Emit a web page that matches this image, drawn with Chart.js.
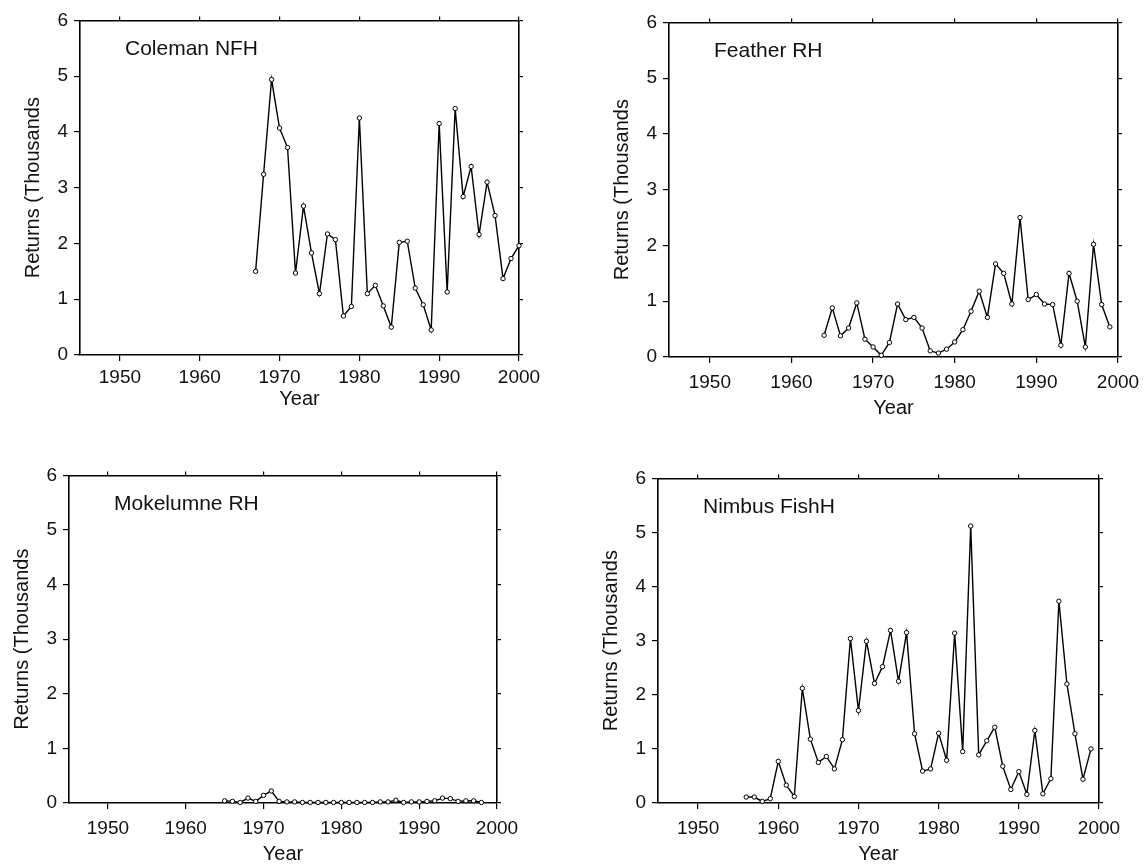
<!DOCTYPE html>
<html>
<head>
<meta charset="utf-8">
<title>Hatchery returns</title>
<script src="https://cdn.jsdelivr.net/npm/chart.js@4.4.1/dist/chart.umd.min.js"></script>
<style>
  html, body { margin: 0; padding: 0; background: #fff; }
  body { width: 1146px; height: 867px; position: relative; overflow: hidden; }
  canvas { position: absolute; }
</style>
</head>
<body>
<canvas id="coleman"></canvas>
<canvas id="feather"></canvas>
<canvas id="mokelumne"></canvas>
<canvas id="nimbus"></canvas>
<script>
// tick labels shared by all four panels
const xTicks = [1950, 1960, 1970, 1980, 1990, 2000];
const yTicks = [0, 1, 2, 3, 4, 5, 6];

// returns in thousands
const colemanYears = [1967, 1968, 1969, 1970, 1971, 1972, 1973, 1974, 1975, 1976, 1977, 1978, 1979, 1980, 1981, 1982, 1983,
  1984, 1985, 1986, 1987, 1988, 1989, 1990, 1991, 1992, 1993, 1994, 1995, 1996, 1997, 1998, 1999, 2000];
const colemanReturns = [1.50, 3.24, 4.94, 4.07, 3.72, 1.47, 2.67, 1.83, 1.10, 2.17, 2.07, 0.70, 0.87, 4.25, 1.10, 1.25, 0.88,
  0.50, 2.02, 2.04, 1.20, 0.90, 0.45, 4.15, 1.13, 4.42, 2.84, 3.38, 2.16, 3.10, 2.50, 1.37, 1.73, 1.96];

const featherYears = [1964, 1965, 1966, 1967, 1968, 1969, 1970, 1971, 1972, 1973, 1974, 1975, 1976, 1977, 1978, 1979, 1980, 1981,
  1982, 1983, 1984, 1985, 1986, 1987, 1988, 1989, 1990, 1991, 1992, 1993, 1994, 1995, 1996, 1997, 1998, 1999];
const featherReturns = [0.39, 0.88, 0.38, 0.52, 0.97, 0.32, 0.18, 0.03, 0.26, 0.95, 0.67, 0.71, 0.52, 0.11, 0.07, 0.14, 0.27, 0.49,
  0.82, 1.18, 0.71, 1.67, 1.50, 0.95, 2.50, 1.03, 1.12, 0.95, 0.94, 0.21, 1.50, 1.00, 0.18, 2.02, 0.94, 0.54];

const mokelumneYears = [1965, 1966, 1967, 1968, 1969, 1970, 1971, 1972, 1973, 1974, 1975, 1976, 1977, 1978, 1979, 1980, 1981,
  1982, 1983, 1984, 1985, 1986, 1987, 1988, 1989, 1990, 1991, 1992, 1993, 1994, 1995, 1996, 1997, 1998];
const mokelumneReturns = [0.04, 0.03, 0.01, 0.09, 0.03, 0.14, 0.22, 0.03, 0.02, 0.02, 0.01, 0.01, 0.01, 0.01, 0.01, 0.01, 0.01,
  0.01, 0.01, 0.01, 0.02, 0.02, 0.05, 0.01, 0.02, 0.02, 0.03, 0.04, 0.09, 0.08, 0.03, 0.04, 0.04, 0.01];

const nimbusYears = [1956, 1957, 1958, 1959, 1960, 1961, 1962, 1963, 1964, 1965, 1966, 1967, 1968, 1969, 1970, 1971, 1972, 1973,
  1974, 1975, 1976, 1977, 1978, 1979, 1980, 1981, 1982, 1983, 1984, 1985, 1986, 1987, 1988, 1989, 1990, 1991, 1992, 1993,
  1994, 1995, 1996, 1997, 1998, 1999];
const nimbusReturns = [0.11, 0.11, 0.03, 0.08, 0.77, 0.33, 0.12, 2.12, 1.18, 0.75, 0.86, 0.63, 1.17, 3.04, 1.71, 2.99, 2.21, 2.52,
  3.19, 2.25, 3.15, 1.28, 0.59, 0.63, 1.29, 0.79, 3.14, 0.95, 5.12, 0.89, 1.15, 1.40, 0.68, 0.25, 0.58, 0.16, 1.34, 0.17,
  0.45, 3.73, 2.20, 1.28, 0.44, 1.00];

const FONT = '"Liberation Sans", Arial, Helvetica, sans-serif';
const INK = '#111';
const YW = 80;   // left axis box
const RW = 30;   // right axis box
const TH = 16;   // top axis box
const XH = 70;   // bottom axis box

// plot-area boxes on the page: left, top, right, bottom
const panels = [
  { id: 'coleman', name: 'Coleman NFH', years: colemanYears, values: colemanReturns, box: [80, 19, 519, 355], labelPad: 5, titleGap: 44 },
  { id: 'feather', name: 'Feather RH', years: featherYears, values: featherReturns, box: [669, 21, 1118, 357], labelPad: 8, titleGap: 51 },
  { id: 'mokelumne', name: 'Mokelumne RH', years: mokelumneYears, values: mokelumneReturns, box: [69, 474, 497, 803], labelPad: 8, titleGap: 51 },
  { id: 'nimbus', name: 'Nimbus FishH', years: nimbusYears, values: nimbusReturns, box: [658, 477, 1099, 803], labelPad: 8, titleGap: 51 },
];

// hatchery name in the upper left of the plot area
const panelName = {
  id: 'panelName',
  afterDraw(chart, args, opts) {
    const { ctx, chartArea } = chart;
    ctx.save();
    ctx.font = '21px ' + FONT;
    ctx.fillStyle = INK;
    ctx.textBaseline = 'middle';
    ctx.fillText(opts.text, chartArea.left + 45, chartArea.top + 29);
    ctx.restore();
  }
};

function setTicks(values) {
  return scale => { scale.ticks = values.map(v => ({ value: v })); };
}

function axisGrid(len) {
  return { drawOnChartArea: false, drawTicks: true, tickLength: len, color: '#000', lineWidth: 1.2 };
}
const axisBorder = { display: true, color: '#000', width: 1.6 };
const plain = v => String(v);  // no thousands separator on years

for (const p of panels) {
  const [l, t, r, b] = p.box;
  const el = document.getElementById(p.id);
  el.width = (r - l) + YW + RW;
  el.height = (b - t) + TH + XH;
  el.style.left = (l - YW) + 'px';
  el.style.top = (t - TH) + 'px';

  const tickFont = { family: FONT, size: 19 };
  const titleFont = { family: FONT, size: 20 };

  new Chart(el, {
    type: 'line',
    data: {
      datasets: [{
        data: p.years.map((x, i) => ({ x: x, y: p.values[i] })),
        borderColor: '#000',
        borderWidth: 1.4,
        pointRadius: 2.2,
        pointBackgroundColor: '#fff',
        pointBorderColor: '#000',
        pointBorderWidth: 1,
        tension: 0,
        clip: false,
      }]
    },
    options: {
      responsive: false,
      animation: false,
      events: [],
      layout: { padding: 0 },
      plugins: {
        legend: { display: false },
        tooltip: { enabled: false },
        panelName: { text: p.name },
      },
      scales: {
        x: {
          type: 'linear', position: 'bottom', min: 1945, max: 2000,
          afterBuildTicks: setTicks(xTicks),
          afterFit: s => { s.height = XH; },
          ticks: { font: tickFont, color: INK, padding: p.labelPad, maxRotation: 0, autoSkip: false, callback: plain },
          grid: axisGrid(6),
          border: axisBorder,
          title: { display: true, text: 'Year', font: titleFont, color: INK, padding: { top: 0, bottom: XH - 12 - p.titleGap } },
        },
        x2: {
          type: 'linear', position: 'top', min: 1945, max: 2000,
          afterBuildTicks: setTicks(xTicks),
          afterFit: s => { s.height = TH; },
          ticks: { display: false },
          grid: axisGrid(4),
          border: axisBorder,
        },
        y: {
          type: 'linear', position: 'left', min: 0, max: 6,
          afterBuildTicks: setTicks(yTicks),
          afterFit: s => { s.width = YW; },
          ticks: { font: tickFont, color: INK, padding: 6, callback: plain },
          grid: axisGrid(6),
          border: axisBorder,
          title: { display: true, text: 'Returns (Thousands', font: titleFont, color: INK, padding: { top: YW - 59, bottom: 0 } },
        },
        y2: {
          type: 'linear', position: 'right', min: 0, max: 6,
          afterBuildTicks: setTicks(yTicks),
          afterFit: s => { s.width = RW; },
          ticks: { display: false },
          grid: axisGrid(4),
          border: axisBorder,
        },
      }
    },
    plugins: [panelName]
  });
}
</script>
</body>
</html>
